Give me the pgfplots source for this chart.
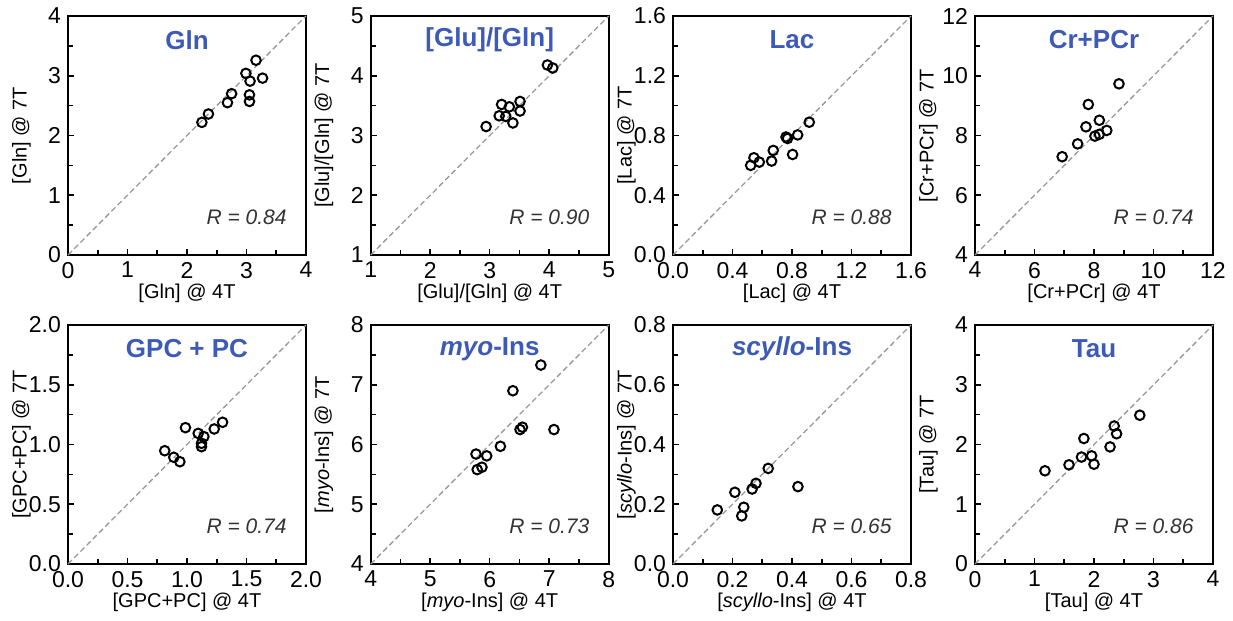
\documentclass[border=0pt]{standalone}
\usepackage{fontspec}
\setmainfont{Liberation Sans}
\usepackage{pgfplots}
\pgfplotsset{compat=1.18}
\definecolor{tblue}{HTML}{3D5AB8}
\definecolor{rgray}{HTML}{333333}
\definecolor{dgray}{HTML}{999999}
\pgfplotsset{
  pan/.style={scale only axis, width=119pt, height=119.5pt, anchor=south west,
    axis line style={line width=1.1pt}, tick align=inside, xtick pos=left, ytick pos=left,
    minor x tick num=1, minor y tick num=1, major tick length=3.2pt, minor tick length=2.7pt,
    tick style={line width=0.8pt, black},
    ticklabel style={font=\fontsize{11.5}{13}\selectfont},
    /pgf/number format/assume math mode=true,
    label style={font=\fontsize{10.5}{12}\selectfont},
    every axis x label/.style={at={(axis description cs:0.5,-0.162)}, anchor=center},
    every axis y label/.style={at={(axis description cs:-0.196,0.5)}, anchor=center, rotate=90},
    clip=false},
  dec/.style={xticklabel style={/pgf/number format/.cd, fixed, fixed zerofill, precision=1},
              yticklabel style={/pgf/number format/.cd, fixed, fixed zerofill, precision=1}},
  pts/.style={only marks, mark=o, mark size=2.4pt, black, mark options={line width=1pt}},
  diag/.style={dgray, line width=0.65pt, dash pattern=on 2.8pt off 1.6pt},
}
\newcommand{\ttl}[1]{\node[font=\bfseries\fontsize{13}{15}\selectfont, text=tblue, yshift=-12pt] at (rel axis cs:0.5,1) {#1};}
\newcommand{\rval}[1]{\node[anchor=east, inner sep=0pt, font=\itshape\fontsize{10.5}{12}\selectfont, text=rgray, xshift=-9.5pt, yshift=19pt] at (rel axis cs:1,0) {#1};}

\begin{document}
\begin{tikzpicture}
% row 1
\begin{axis}[pan, at={(34pt,-127.5pt)}, xmin=0, xmax=4, ymin=0, ymax=4, xtick={0,1,2,3,4}, ytick={0,1,2,3,4},
  xlabel={[Gln] @ 4T}, ylabel={[Gln] @ 7T}]
  \addplot[diag] coordinates {(0,0)(4,4)};
  \addplot[pts] coordinates {(2.25,2.22)(2.36,2.36)(2.68,2.55)(2.75,2.70)(2.99,3.04)(3.06,2.91)(3.05,2.68)(3.05,2.57)(3.16,3.26)(3.27,2.96)};
  \ttl{Gln}
  \rval{R = 0.84}
\end{axis}
\begin{axis}[pan, at={(185.35pt,-127.5pt)}, xmin=1, xmax=5, ymin=1, ymax=5, xtick={1,2,3,4,5}, ytick={1,2,3,4,5},
  xlabel={[Glu]/[Gln] @ 4T}, ylabel={[Glu]/[Gln] @ 7T}]
  \addplot[diag] coordinates {(1,1)(5,5)};
  \addplot[pts] coordinates {(2.94,3.15)(3.20,3.52)(3.33,3.48)(3.51,3.57)(3.51,3.41)(3.16,3.33)(3.27,3.32)(3.39,3.21)(3.97,4.18)(4.06,4.13)};
  \ttl{[Glu]/[Gln]}
  \rval{R = 0.90}
\end{axis}
\begin{axis}[pan, dec, at={(336.5pt,-127.5pt)}, xmin=0, xmax=1.6, ymin=0, ymax=1.6, xtick={0,0.4,0.8,1.2,1.6}, ytick={0,0.4,0.8,1.2,1.6},
  xlabel={[Lac] @ 4T}, ylabel={[Lac] @ 7T}]
  \addplot[diag] coordinates {(0,0)(1.6,1.6)};
  \addplot[pts] coordinates {(0.916,0.889)(0.838,0.804)(0.76,0.79)(0.77,0.78)(0.674,0.70)(0.804,0.673)(0.663,0.629)(0.544,0.651)(0.58,0.622)(0.522,0.60)};
  \ttl{Lac}
  \rval{R = 0.88}
\end{axis}
\begin{axis}[pan, at={(487.5pt,-127.5pt)}, xmin=4, xmax=12, ymin=4, ymax=12, xtick={4,6,8,10,12}, ytick={4,6,8,10,12},
  xlabel={[Cr+PCr] @ 4T}, ylabel={[Cr+PCr] @ 7T}]
  \addplot[diag] coordinates {(4,4)(12,12)};
  \addplot[pts] coordinates {(8.84,9.73)(7.81,9.04)(8.18,8.51)(7.73,8.29)(8.43,8.17)(8.18,8.04)(8.03,7.98)(7.45,7.72)(6.93,7.29)};
  \ttl{Cr+PCr}
  \rval{R = 0.74}
\end{axis}
% row 2
\begin{axis}[pan, dec, at={(34pt,-282pt)}, xmin=0, xmax=2, ymin=0, ymax=2, xtick={0,0.5,1,1.5,2}, ytick={0,0.5,1,1.5,2},
  xlabel={[GPC+PC] @ 4T}, ylabel={[GPC+PC] @ 7T}]
  \addplot[diag] coordinates {(0,0)(2,2)};
  \addplot[pts] coordinates {(0.813,0.948)(0.889,0.893)(0.94,0.856)(0.987,1.141)(1.094,1.093)(1.142,1.066)(1.122,1.01)(1.122,0.982)(1.229,1.13)(1.299,1.186)};
  \ttl{GPC + PC}
  \rval{R = 0.74}
\end{axis}
\begin{axis}[pan, at={(185.35pt,-282pt)}, xmin=4, xmax=8, ymin=4, ymax=8, xtick={4,5,6,7,8}, ytick={4,5,6,7,8},
  xlabel={[\textit{myo}-Ins] @ 4T}, ylabel={[\textit{myo}-Ins] @ 7T}]
  \addplot[diag] coordinates {(4,4)(8,8)};
  \addplot[pts] coordinates {(6.86,7.33)(6.39,6.90)(6.55,6.29)(6.51,6.25)(7.08,6.25)(6.18,5.97)(5.77,5.84)(5.95,5.81)(5.79,5.58)(5.87,5.62)};
  \ttl{\textit{myo}-Ins}
  \rval{R = 0.73}
\end{axis}
\begin{axis}[pan, dec, at={(336.5pt,-282pt)}, xmin=0, xmax=0.8, ymin=0, ymax=0.8, xtick={0,0.2,0.4,0.6,0.8}, ytick={0,0.2,0.4,0.6,0.8},
  xlabel={[\textit{scyllo}-Ins] @ 4T}, ylabel={[\textit{scyllo}-Ins] @ 7T}]
  \addplot[diag] coordinates {(0,0)(0.8,0.8)};
  \addplot[pts] coordinates {(0.149,0.181)(0.208,0.240)(0.238,0.190)(0.231,0.161)(0.266,0.251)(0.279,0.270)(0.320,0.320)(0.42,0.259)};
  \ttl{\textit{scyllo}-Ins}
  \rval{R = 0.65}
\end{axis}
\begin{axis}[pan, at={(487.5pt,-282pt)}, xmin=0, xmax=4, ymin=0, ymax=4, xtick={0,1,2,3,4}, ytick={0,1,2,3,4},
  xlabel={[Tau] @ 4T}, ylabel={[Tau] @ 7T}]
  \addplot[diag] coordinates {(0,0)(4,4)};
  \addplot[pts] coordinates {(1.176,1.56)(1.58,1.66)(1.79,1.79)(1.83,2.10)(1.96,1.81)(2.0,1.67)(2.27,1.96)(2.34,2.31)(2.38,2.18)(2.77,2.49)};
  \ttl{Tau}
  \rval{R = 0.86}
\end{axis}
\pgfresetboundingbox
\path[use as bounding box] (0,0) rectangle (616.5pt,-310.5pt);
\end{tikzpicture}
\end{document}
